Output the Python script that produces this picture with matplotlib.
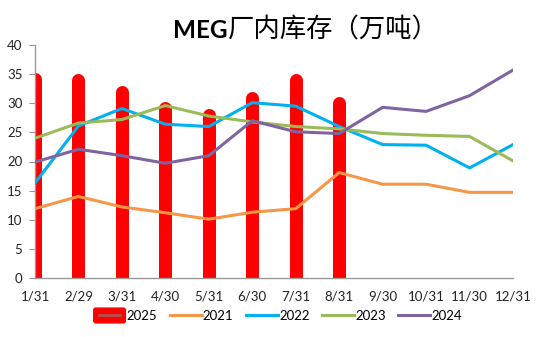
import matplotlib
matplotlib.use("Agg")
import matplotlib.pyplot as plt
from matplotlib.patches import FancyBboxPatch
from matplotlib.lines import Line2D
from matplotlib.legend_handler import HandlerBase

plt.rcParams['font.family'] = ['Lato', 'Noto Sans CJK SC', 'DejaVu Sans']

categories = ["1/31", "2/29", "3/31", "4/30", "5/31", "6/30", "7/31", "8/31",
              "9/30", "10/31", "11/30", "12/31"]
s2025 = [35.3, 35.1, 33.1, 30.3, 29.1, 32.0, 35.1, 31.1]
s2021 = [11.9, 14.0, 12.2, 11.2, 10.1, 11.3, 11.9, 18.1, 16.1, 16.1, 14.7, 14.7]
s2022 = [16.3, 26.1, 29.1, 26.4, 26.0, 30.1, 29.5, 26.0, 22.9, 22.8, 18.9, 22.9]
s2023 = [24.0, 26.6, 27.2, 29.6, 27.8, 26.8, 26.0, 25.6, 24.8, 24.5, 24.3, 20.1]
s2024 = [19.9, 22.1, 21.0, 19.7, 21.0, 27.0, 25.1, 24.8, 29.3, 28.6, 31.3, 35.7]

fig = plt.figure(figsize=(5.5, 3.37), dpi=100)
ax = fig.add_axes([35/550, (337-278)/337, (513-35)/550, (278-45)/337])

ymax = 40
ax.set_xlim(0, len(categories) - 1)
ax.set_ylim(0, ymax)

# bars with rounded tops drawn as thick round-capped lines
bar_px = 13
lw_pt = bar_px * 72 / fig.dpi
ax_h_px = ax.get_position().height * fig.get_figheight() * fig.dpi
cap_units = (bar_px / 2) * ymax / ax_h_px
xs25 = list(range(len(s2025)))
ax.vlines(xs25, -5, [v - cap_units for v in s2025], colors='#FF0000',
          linewidth=lw_pt, capstyle='round', zorder=2)

xs = list(range(len(categories)))
lw = 2.2
ax.plot(xs, s2021, color='#F79646', lw=lw, zorder=3)
ax.plot(xs, s2022, color='#00B0F0', lw=lw, zorder=3)
ax.plot(xs, s2023, color='#9BBB59', lw=lw, zorder=3)
ax.plot(xs, s2024, color='#8064A2', lw=lw, zorder=3)

ax.set_xticks(xs)
ax.set_xticklabels(categories)
ax.set_yticks(range(0, 41, 5))
ax.tick_params(axis='x', length=0, pad=9, labelsize=9.5, colors='#222222')
ax.tick_params(axis='y', length=4, width=0.8, color='#999999', pad=5,
               labelsize=9.5, labelcolor='#222222')
for s in ['top', 'right']:
    ax.spines[s].set_visible(False)
for s in ['left', 'bottom']:
    ax.spines[s].set_color('#999999')
    ax.spines[s].set_linewidth(1.0)

# title: bold latin part + regular CJK part
ty = 1 - 30/337
fig.text(228/550, ty, "MEG", ha='right', va='center', fontsize=17.5,
         fontweight='bold', family=['Lato', 'DejaVu Sans'])
fig.text(228/550, ty, "厂内库存（万吨）", ha='left', va='center', fontsize=19,
         family=['Noto Sans CJK SC', 'DejaVu Sans'])


class BarHandler(HandlerBase):
    def create_artists(self, legend, orig_handle, xdescent, ydescent,
                       width, height, fontsize, trans):
        h = height * 1.6
        y0 = -ydescent + (height - h) / 2
        box = FancyBboxPatch((-xdescent + 1.5, y0 + 1.5), width - 3, h - 3,
                             boxstyle="round,pad=1.5", facecolor='#FF0000',
                             edgecolor='#FF0000', transform=trans)
        ln = Line2D([-xdescent + 4, -xdescent + width - 4],
                    [y0 + h / 2, y0 + h / 2], color='#B05050', lw=2,
                    transform=trans)
        return [box, ln]


bar_handle = object()
handles = [bar_handle,
           Line2D([], [], color='#F79646', lw=2.2),
           Line2D([], [], color='#00B0F0', lw=2.2),
           Line2D([], [], color='#9BBB59', lw=2.2),
           Line2D([], [], color='#8064A2', lw=2.2)]
labels = ["2025", "2021", "2022", "2023", "2024"]
fig.legend(handles, labels, loc='center', bbox_to_anchor=(0.505, 0.062),
           ncol=5, frameon=False, fontsize=9.5, handlelength=2.4,
           handletextpad=0.1, columnspacing=0.95,
           handler_map={bar_handle: BarHandler()})

fig.savefig("out.png", dpi=100)
